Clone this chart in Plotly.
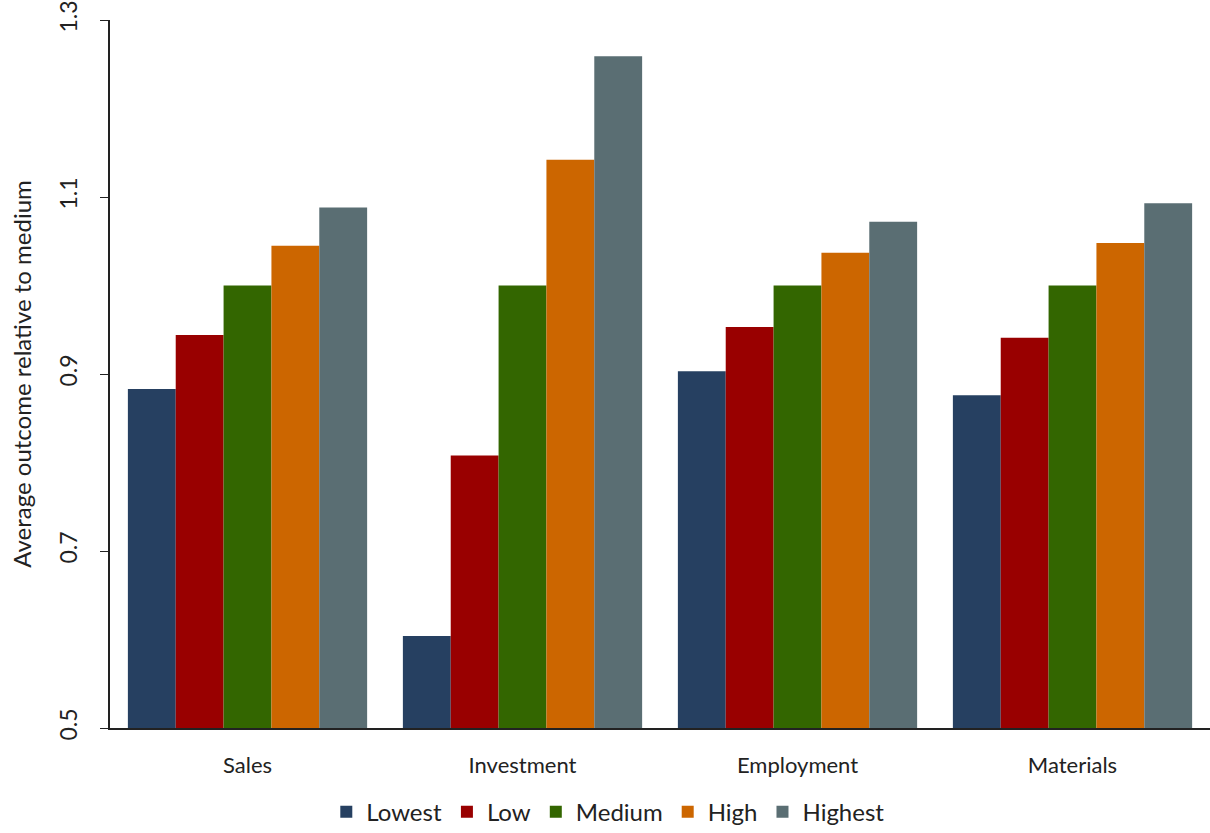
import plotly.graph_objects as go

categories = ["Sales", "Investment", "Employment", "Materials"]
series_names = ["Lowest", "Low", "Medium", "High", "Highest"]
lowest = [0.883, 0.604, 0.903, 0.876]
low = [0.944, 0.808, 0.953, 0.941]
medium = [1.0, 1.0, 1.0, 1.0]
high = [1.045, 1.142, 1.037, 1.048]
highest = [1.088, 1.259, 1.072, 1.093]
colors = ["#264061", "#990000", "#336600", "#CC6600", "#5A6E73"]
y_ticks = [0.5, 0.7, 0.9, 1.1, 1.3]

values = [lowest, low, medium, high, highest]
font = "Lato, Carlito, 'Open Sans', sans-serif"

fig = go.Figure()
for name, vals, col in zip(series_names, values, colors):
    fig.add_trace(go.Bar(x=categories, y=vals, name=name, marker=dict(color=col, line=dict(width=0))))

fig.update_layout(
    width=1210, height=833,
    barmode="group", bargap=0.13, bargroupgap=0,
    plot_bgcolor="white", paper_bgcolor="white",
    margin=dict(l=110, r=0, t=20, b=105, autoexpand=False),
    font=dict(family=font, size=22, color="#222222"),
    legend=dict(orientation="h", x=0.453, xanchor="center", y=-0.119, yanchor="middle",
                font=dict(size=24), traceorder="normal", itemwidth=30),
    showlegend=True,
)
fig.update_yaxes(range=[0.5, 1.3], tickvals=y_ticks, ticktext=[str(t) for t in y_ticks],
                 tickangle=-90, showgrid=False, zeroline=False, automargin=False,
                 showline=True, linecolor="#222222", linewidth=1.5,
                 ticks="outside", ticklen=8, tickcolor="#222222",
                 tickfont=dict(size=23), ticklabelstandoff=14, ticklabeloverflow="allow",
                 title=dict(text="Average outcome relative to medium", font=dict(size=24), standoff=16))
fig.update_xaxes(showgrid=False, showline=True, linecolor="#222222", linewidth=1.5,
                 automargin=False,
                 ticks="", tickfont=dict(size=22), ticklabelstandoff=17)

fig.write_html("out.html", config={"displayModeBar": False},
               post_script="document.body.style.margin='0';document.body.style.overflow='hidden';")
